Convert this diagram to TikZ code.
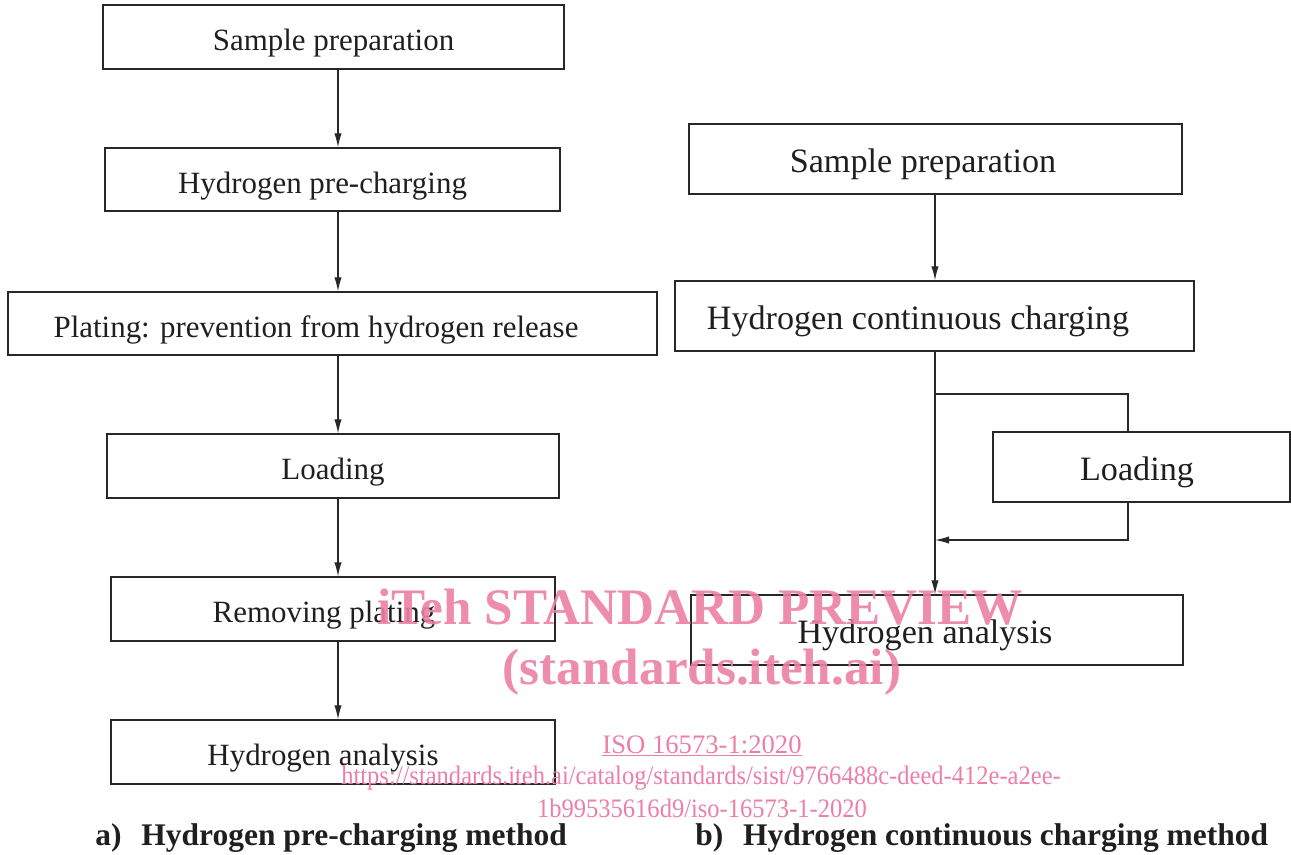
\documentclass[tikz,border=0pt]{standalone}
\usepackage{fontspec}
\setmainfont{Liberation Serif}
\usepackage{graphicx}
\usetikzlibrary{arrows.meta}
\definecolor{wmc}{RGB}{236,128,163}
\definecolor{lnc}{RGB}{40,40,40}
\begin{document}
\begin{tikzpicture}[x=0.75pt,y=-0.75pt,
 box/.style={draw=lnc, line width=1pt, inner sep=0pt, text depth=0pt, text height=20.5pt, font=\fontsize{23.2}{27}\selectfont, text=black!88},
 bigbox/.style={box, font=\fontsize{25.6}{30}\selectfont},
 arr/.style={draw=lnc, line width=0.9pt, -{Latex[length=10.5pt,width=5.5pt]}},
 link/.style={draw=lnc, line width=0.9pt},
 wmk/.style={text=wmc, text opacity=0.9, font=\bfseries\fontsize{38.4}{40}\selectfont, inner sep=0pt},
 wms/.style={text=wmc, font=\fontsize{20}{22}\selectfont, inner sep=0pt},
 captxt/.style={font=\bfseries\fontsize{23.6}{28}\selectfont, inner sep=0pt, anchor=base west, text=black!88}]
\useasboundingbox (0,0) rectangle (1291,854);
% left column
\node[box, minimum width=461*0.75pt, minimum height=64*0.75pt] (l1) at (333.5,37) {Sample preparation};
\node[box, minimum width=455*0.75pt, minimum height=63*0.75pt] (l2) at (332.5,179.5) {Hydrogen pre-charging\hspace*{15pt}};
\node[box, minimum width=649*0.75pt, minimum height=63*0.75pt] (l3) at (332.5,323.5) {Plating: prevention from hydrogen release\hspace*{24.75pt}};
\node[box, minimum width=452*0.75pt, minimum height=64*0.75pt] (l4) at (333,466) {Loading};
\node[box, minimum width=444*0.75pt, minimum height=64*0.75pt] (l5) at (333,609) {Removing plating\hspace*{13.5pt}};
\node[box, minimum width=444*0.75pt, minimum height=64*0.75pt] (l6) at (333,752) {Hydrogen analysis\hspace*{15pt}};
\coordinate (ax) at (338,0);
\draw[arr] (l1.south -| ax) -- (l2.north -| ax);
\draw[arr] (l2.south -| ax) -- (l3.north -| ax);
\draw[arr] (l3.south -| ax) -- (l4.north -| ax);
\draw[arr] (l4.south -| ax) -- (l5.north -| ax);
\draw[arr] (l5.south -| ax) -- (l6.north -| ax);
% right column
\node[bigbox, minimum width=493*0.75pt, minimum height=70*0.75pt] (r1) at (935.5,159) {Sample preparation\hspace*{18.75pt}};
\node[bigbox, minimum width=519*0.75pt, minimum height=70*0.75pt] (r2) at (934.5,316) {Hydrogen continuous charging\hspace*{24.75pt}};
\node[bigbox, minimum width=297*0.75pt, minimum height=70*0.75pt] (rl) at (1141.5,467) {Loading\hspace*{6.75pt}};
\node[bigbox, minimum width=492*0.75pt, minimum height=70*0.75pt] (r3) at (937,630) {Hydrogen analysis\hspace*{18pt}};
\coordinate (bx) at (935,0);
\coordinate (lx) at (1128,0);
\coordinate (ty) at (0,394);
\coordinate (by) at (0,540);
\draw[arr] (r1.south -| bx) -- (r2.north -| bx);
\draw[arr] (r2.south -| bx) -- (r3.north -| bx);
\draw[link] (bx |- ty) -- (lx |- ty) -- (rl.north -| lx);
\draw[arr] (rl.south -| lx) -- (lx |- by) -- (bx |- by);
% captions
\node[captxt] (ca) at (95,845) {a)\hspace{15pt}Hydrogen pre-charging method};
\node[captxt] (cb) at (695,845) {b)\hspace{15pt}Hydrogen continuous charging method};
% watermark
\node[wmk] (wm1) at (700,607) {iTeh STANDARD PREVIEW};
\node[wmk] (wm2) at (702,672) {(standards.iteh.ai)};
\node[wms] (iso) at (702,746) {\underline{ISO 16573-1:2020}};
\node[wms] (url) at (701,778) {\scalebox{0.92}[1]{https://standards.iteh.ai/catalog/standards/sist/9766488c-deed-412e-a2ee-}};
\node[wms] (url2) at (702,808) {\scalebox{0.92}[1]{1b99535616d9/iso-16573-1-2020}};
\end{tikzpicture}
\end{document}
